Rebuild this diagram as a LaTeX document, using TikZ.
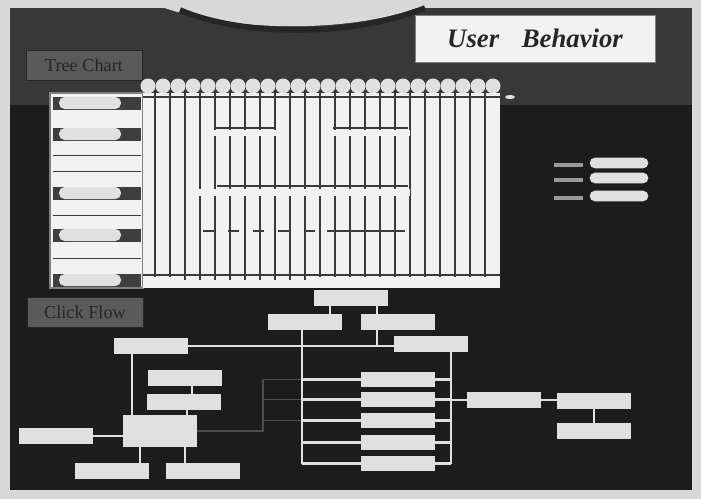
\documentclass[tikz,border=0pt]{standalone}
\usepackage{fontspec}
\setmainfont{Liberation Serif}
\usetikzlibrary{calc}

\definecolor{screen}{HTML}{1C1C1C}
\definecolor{screentop}{HTML}{383838}
\definecolor{photo}{HTML}{D8D8D8}
\definecolor{panel}{HTML}{F2F2F2}
\definecolor{ink}{HTML}{3A3A3A}
\definecolor{boxgray}{HTML}{E0E0E0}
\definecolor{tabgray}{HTML}{5A5A5A}

\tikzset{
  flowbox/.style={fill=boxgray, minimum width=1.85cm, minimum height=0.38cm, inner sep=0pt},
  conn/.style={draw=boxgray, line width=1.8pt},
  faint/.style={draw=gray!60!black, line width=1.2pt},
  tab/.style={fill=tabgray, draw=gray!30!black, text=black!85, font=\fontsize{13}{15}\selectfont,
    minimum width=2.9cm, minimum height=0.75cm, inner sep=0pt},
  pill/.style={fill=boxgray, rounded corners=0.14cm, minimum height=0.3cm, inner sep=0pt},
  gridline/.style={draw=ink, line width=0.9pt},
  segline/.style={draw=ink, line width=1.5pt}
}

\begin{document}
\begin{tikzpicture}[x=0.025cm, y=-0.025cm]
\useasboundingbox (0,0) rectangle (701,499);
% screen photo
\fill[photo] (0,0) rectangle (701,499);
\fill[screen] (10,8) rectangle (692,490);
\fill[screentop] (10,8) rectangle (692,105);
\fill[photo] (145,0) .. controls (215,34) and (365,36) .. (435,0) -- cycle;
\draw[black!85, line width=4pt] (180,10) .. controls (240,36) and (350,38) .. (425,8);

% title
\node[fill=white!95!black, draw=gray, minimum width=6cm, minimum height=1.175cm,
  font=\fontsize{19}{22}\selectfont\bfseries\itshape, text=black!85] (title) at (535,38.5) {User\hspace{0.6em} Behavior};

% tree chart
\node[tab] (treetab) at (84,65) {Tree Chart};
\fill[panel] (50,93) rectangle (143,288);
\draw[gray, line width=0.8pt] (50,93) rectangle (143,288);
\foreach \y in {103,134,193,235,280}{
  \fill[screen!85!white] (53,{\y-6.5}) rectangle (141,{\y+6.5});
  \node[pill, minimum width=1.55cm] (pill\y) at (90,\y) {};
}
\foreach \y in {155,171,215,258} \draw[ink, line width=0.6pt] (53,\y) -- (141,\y);

\fill[panel] (143,93) rectangle (500,288);
\foreach \k in {0,...,22} \draw[gridline] ({155+15*\k},93) -- ({155+15*\k},277);
\fill[panel] (214,130) rectangle (276,136);
\fill[panel] (331,130) rectangle (410,136);
\fill[panel] (198,189) rectangle (410,196);
\draw[ink, line width=1.2pt] (143,97) -- (500,97);
\draw[ink, line width=1.2pt] (143,275) -- (500,275);
\foreach \k in {2,...,10} \draw[ink, line width=0.8pt] ({155+15*\k},277) -- ++(0,3);
\draw[segline] (215,128) -- (275,128) (333,128) -- (408,128) (217,186) -- (408,186);
\foreach \a in {203,228,253,278,304} \draw[segline] (\a,231) -- ++(11,0);
\draw[segline] (327,231) -- (405,231);
\foreach \k in {0,...,23} \fill[boxgray] ({148+15*\k},86) circle (7.5);
\fill[boxgray] (510,97) ellipse (5 and 2);

% legend
\foreach \y in {163,178,196}{
  \fill[gray!80] (554,{\y}) rectangle (583,{\y+3.5});
  \node[pill, minimum width=1.47cm, minimum height=0.27cm] (key\y) at (619,\y) {};
}

% click flow
\node[tab] (flowtab) at (85,312) {Click Flow};

\node[flowbox] (A) at (351,298) {};
\node[flowbox] (B) at (305,322) {};
\node[flowbox] (C) at (398,322) {};
\node[flowbox] (D) at (431,344) {};
\node[flowbox] (E) at (151,346) {};
\node[flowbox] (F) at (185,378) {};
\node[flowbox] (G) at (184,402) {};
\node[flowbox, minimum height=0.78cm] (H) at (160,431) {};
\node[flowbox] (I) at (56,436) {};
\node[flowbox] (J) at (112,471) {};
\node[flowbox] (K) at (203,471) {};
\foreach \i/\y in {1/379.5,2/399.5,3/420.5,4/442.5,5/463.5}
  \node[flowbox] (L\i) at (398,\y) {};
\node[flowbox] (M) at (504,400) {};
\node[flowbox] (N) at (594,401) {};
\node[flowbox] (O) at (594,431) {};

\coordinate (xab) at (330,0);
\coordinate (xac) at (377,0);
\coordinate (xb) at (302,0);
\coordinate (xd) at (451,0);
\coordinate (xe) at (132,0);
\coordinate (xfg) at (192,0);
\coordinate (xgh) at (187,0);
\coordinate (xj) at (140,0);
\coordinate (xk) at (185,0);
\coordinate (xf) at (263,0);

\draw[faint] (H.east) -- (H.east -| xf) -- (L1.west -| xf);
\foreach \i in {1,2,3} \draw[faint] (L\i.west -| xf) -- (L\i.west -| xb);

\draw[conn] (A.south -| xab) -- (B.north -| xab);
\draw[conn] (A.south -| xac) -- (C.north -| xac);
\draw[conn] (C.south -| xac) -- (E.east -| xac);
\draw[conn] (E.east) -- (E.east -| D.west);
\draw[conn] (B.south -| xb) -- (L5.west -| xb);
\draw[conn] (D.south -| xd) -- (L5.east -| xd);
\foreach \i in {1,...,5}{
  \draw[conn] (L\i.west -| xb) -- (L\i.west);
  \draw[conn] (L\i.east) -- (L\i.east -| xd);
}
\draw[conn] (M.west -| xd) -- (M.west);
\draw[conn] (M.east) -- (M.east -| N.west);
\draw[conn] (N.south) -- (O.north);
\draw[conn] (E.south -| xe) -- (H.north -| xe);
\draw[conn] (F.south -| xfg) -- (G.north -| xfg);
\draw[conn] (G.south -| xgh) -- (H.north -| xgh);
\draw[conn] (I.east) -- (I.east -| H.west);
\draw[conn] (H.south -| xj) -- (J.north -| xj);
\draw[conn] (H.south -| xk) -- (K.north -| xk);
\end{tikzpicture}
\end{document}
